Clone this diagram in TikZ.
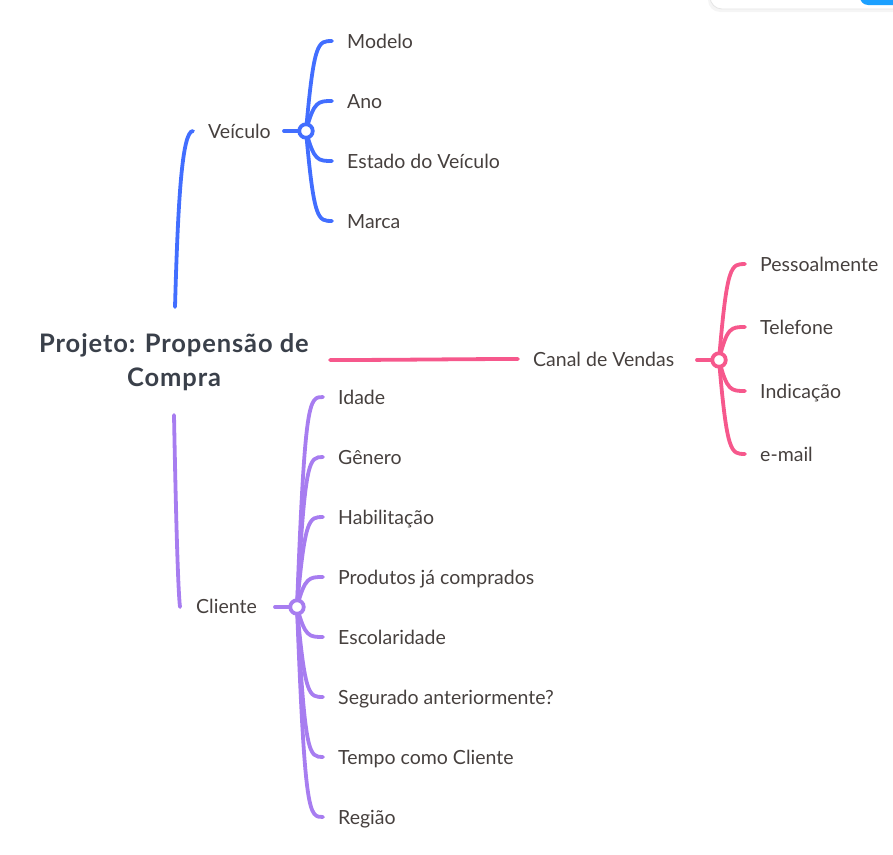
\documentclass[tikz,border=0pt]{standalone}
\usepackage{fontspec}
\setmainfont{Lato}
\usetikzlibrary{calc}
\definecolor{vblue}{RGB}{66,110,255}
\definecolor{cpink}{RGB}{246,88,140}
\definecolor{kpurple}{RGB}{167,125,240}
\definecolor{txt}{RGB}{70,64,62}
\definecolor{ttl}{RGB}{58,64,74}
\definecolor{uiblue}{RGB}{28,160,255}
\tikzset{
  leaf/.style={anchor=west, inner sep=0pt, text height=14pt, text depth=0pt, text=txt, font=\fontsize{19.5}{23}\selectfont},
  titlenode/.style={align=center, inner sep=0pt, text=ttl, font=\fontsize{25.5}{34}\selectfont\bfseries\addfontfeatures{LetterSpace=3.5}},
  link/.style={line width=3.8pt, line cap=round},
  hub/.style={circle, draw, fill=white, line width=3.8pt, minimum size=13.5pt, inner sep=0pt},
}
\begin{document}
\begin{tikzpicture}[x=1pt, y=-1pt]
\useasboundingbox (0,0) rectangle (893,854);
\clip (0,0) rectangle (893,854);
% UI fragment top right
\fill[black!4, rounded corners=12pt] (708,-30) rectangle (905,12);
\filldraw[fill=white, draw=black!10, line width=0.8pt, rounded corners=12pt] (710,-30) rectangle (905,9);
\fill[uiblue, rounded corners=8pt] (860,-30) rectangle (905,5);

% title
\node[titlenode] (title) at (174,362) {Projeto: Propensão de\\Compra};
\coordinate (tTop) at (175,307);
\coordinate (tBot) at (174,415);
\coordinate (tRight) at (330,360);

% ---------- Veículo ----------
\node[leaf] (veiculo) at (208,131) {Veículo};
\coordinate (vIn) at (193,131);
\coordinate (vc) at (306,131);
\draw[link, vblue] (tTop) .. controls (178,200) and (182,131) .. (vIn);
\node[leaf] (modelo) at (347,41) {Modelo};
\node[leaf] (ano) at (347,101) {Ano};
\node[leaf] (estado) at (347,161) {Estado do Veículo};
\node[leaf] (marca) at (347,221) {Marca};
\draw[link, vblue] ($(vc)+(-22,0)$) -- (vc);
\draw[link, vblue] (vc) .. controls +(8,-90) and +(-14,0) .. ($(modelo.west)+(-15,0)$);
\draw[link, vblue] (vc) .. controls +(8,-30) and +(-14,0) .. ($(ano.west)+(-15,0)$);
\draw[link, vblue] (vc) .. controls +(8,30) and +(-14,0) .. ($(estado.west)+(-15,0)$);
\draw[link, vblue] (vc) .. controls +(8,90) and +(-14,0) .. ($(marca.west)+(-15,0)$);
\node[hub, draw=vblue] (vhub) at (vc) {};

% ---------- Canal de Vendas ----------
\node[leaf] (canal) at (533,359) {Canal de Vendas};
\coordinate (cIn) at (518,359);
\coordinate (cc) at (719,360);
\draw[link, cpink] (tRight) .. controls (400,360) and (460,359) .. (cIn);
\node[leaf] (pess) at (760,264) {Pessoalmente};
\node[leaf] (tel) at (760,327) {Telefone};
\node[leaf] (ind) at (760,391) {Indicação};
\node[leaf] (email) at (760,454) {e-mail};
\draw[link, cpink] ($(cc)+(-22,0)$) -- (cc);
\draw[link, cpink] (cc) .. controls +(8,-96) and +(-14,0) .. ($(pess.west)+(-15,0)$);
\draw[link, cpink] (cc) .. controls +(8,-33) and +(-14,0) .. ($(tel.west)+(-15,0)$);
\draw[link, cpink] (cc) .. controls +(8,31) and +(-14,0) .. ($(ind.west)+(-15,0)$);
\draw[link, cpink] (cc) .. controls +(8,94) and +(-14,0) .. ($(email.west)+(-15,0)$);
\node[hub, draw=cpink] (chub) at (cc) {};

% ---------- Cliente ----------
\node[leaf] (cliente) at (196,606) {Cliente};
\coordinate (kIn) at (180,607);
\coordinate (kc) at (297,607);
\draw[link, kpurple] (tBot) .. controls (176,520) and (178,590) .. (kIn);
\node[leaf] (idade) at (338,397) {Idade};
\node[leaf] (genero) at (338,457) {Gênero};
\node[leaf] (habil) at (338,517) {Habilitação};
\node[leaf] (prod) at (338,577) {Produtos já comprados};
\node[leaf] (escol) at (338,637) {Escolaridade};
\node[leaf] (seg) at (338,697) {Segurado anteriormente?};
\node[leaf] (tempo) at (338,757) {Tempo como Cliente};
\node[leaf] (regiao) at (338,817) {Região};
\draw[link, kpurple] ($(kc)+(-22,0)$) -- (kc);
\foreach \n/\d in {idade/-210, genero/-150, habil/-90, prod/-30, escol/30, seg/90, tempo/150, regiao/210}{
  \draw[link, kpurple] (kc) .. controls +(8,\d) and +(-14,0) .. ($(\n.west)+(-15,0)$);
}
\node[hub, draw=kpurple] (khub) at (kc) {};
\end{tikzpicture}
\end{document}
